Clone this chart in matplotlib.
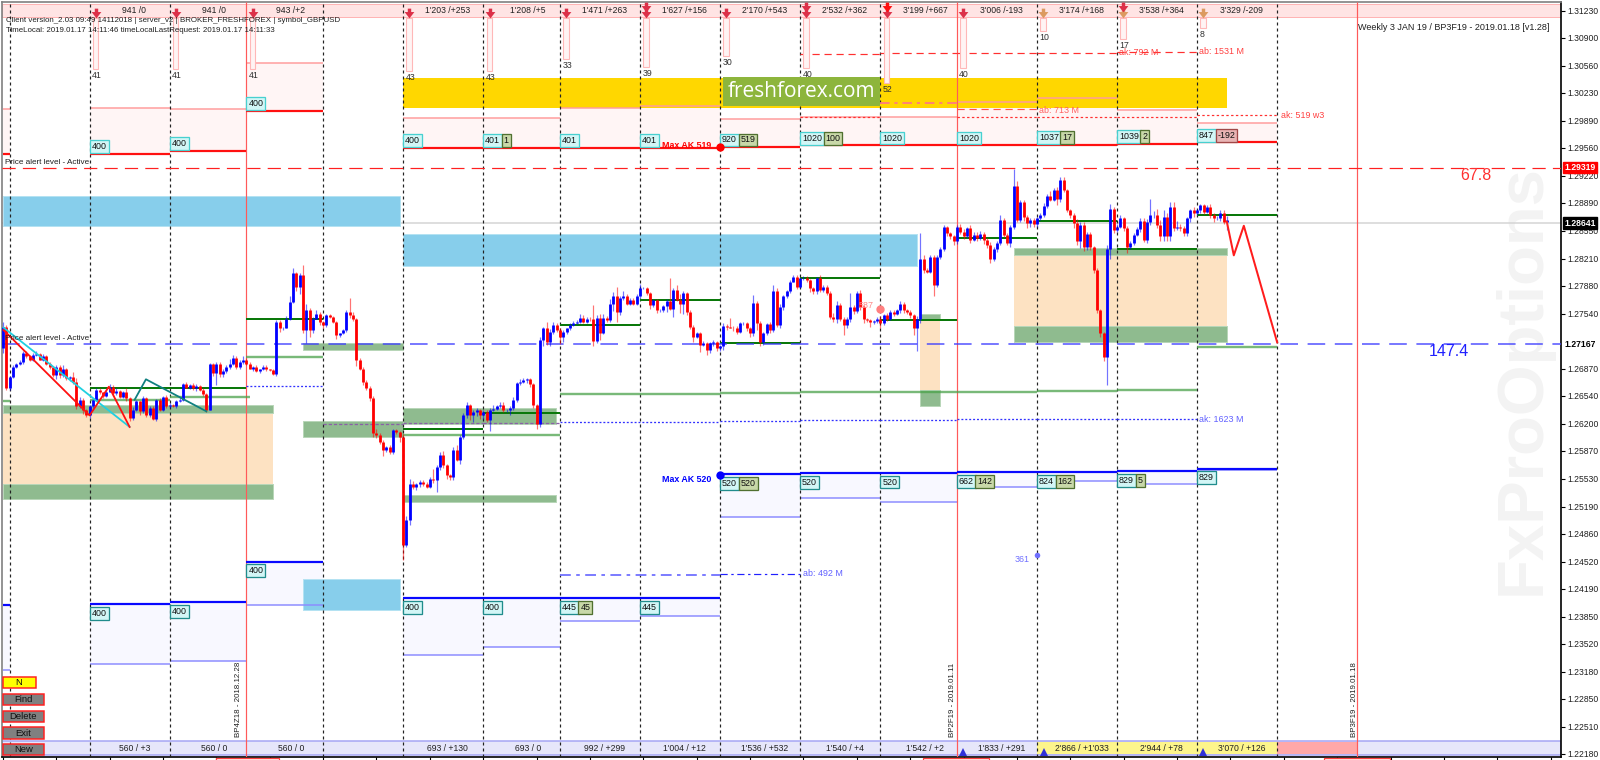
import numpy as np
import matplotlib
matplotlib.use("Agg")
import matplotlib.pyplot as plt
from matplotlib.patches import Rectangle

plt.rcParams['font.family'] = ['Liberation Sans', 'DejaVu Sans']

# candles, H1 bars, prices in 1/10000
first_open = 12712
closes = [12738, 12664,
    12677,12689,12693,12695,12706,12702,12698,12704,12705,12698,12702,12693,12689,12679,12689,12679,12686,12675,12677,12671,12641,12649,12637,12630,
    12641,12649,12661,12658,12654,12659,12665,12657,12660,12653,12658,12651,12627,12637,12647,12635,12651,12631,12639,12626,12649,12637,12653,12641,
    12643,12641,12647,12649,12668,12664,12667,12663,12666,12661,12656,12637,12693,12682,12693,12680,12684,12689,12693,12700,12689,12695,12697,
    12693,12687,12689,12684,12686,12689,12686,12685,12680,12744,12736,12737,12748,12768,12803,12787,12801,12734,12758,12734,12748,12754,12744,
    12740,12752,12750,12744,12728,12730,12734,12756,12752,12748,12698,12687,12671,12663,12651,12608,12606,12598,12588,12592,12586,12612,12610,12604,
    12472,12502,12547,12543,12546,12549,12547,12543,12553,12551,12567,12582,12569,12557,12555,12588,12576,12604,12630,12643,12630,12634,12637,12630,
    12634,12625,12637,12638,12641,12643,12636,12636,12639,12649,12669,12671,12673,12674,12668,12643,12620,12722,12736,12720,12732,12740,12734,
    12726,12732,12736,12740,12742,12744,12749,12744,12748,12747,12721,12749,12730,12749,12746,12766,12775,12756,12773,12775,12766,12771,12766,12775,
    12785,12785,12779,12764,12771,12758,12758,12763,12769,12760,12783,12771,12766,12779,12756,12738,12726,12730,12716,12718,12710,12718,12720,12712,
    12714,12739,12738,12737,12736,12732,12742,12742,12736,12730,12767,12742,12720,12730,12741,12734,12782,12740,12762,12775,12781,12793,12799,12787,
    12797,12798,12795,12785,12781,12797,12783,12786,12779,12750,12748,12764,12748,12740,12748,12762,12757,12779,12762,12748,12746,12744,12745,12748,
    12742,12752,12748,12756,12754,12758,12766,12758,12756,12752,12736,12748,12821,12807,12805,12823,12789,12823,12833,12859,12852,12848,12842,
    12860,12854,12848,12858,12844,12850,12846,12851,12844,12838,12821,12833,12840,12868,12850,12840,12860,12910,12868,12890,12872,12864,12868,12863,
    12870,12874,12885,12897,12893,12904,12894,12917,12904,12880,12874,12864,12842,12862,12835,12851,12835,12807,12758,12730,12701,12833,12882,12856,
    12860,12870,12858,12835,12840,12850,12857,12867,12844,12866,12874,12874,12862,12848,12872,12848,12884,12858,12860,12858,12852,12870,12880,12876,
    12880,12886,12878,12884,12874,12870,12871,12877,12866,12868]
upper_wick = [6,2,
    1,2,1,2,3,3,2,2,4,1,3,2,2,1,2,2,5,2,1,6,4,3,2,1,
    2,1,2,3,1,2,3,2,3,1,2,5,1,3,2,1,3,1,2,2,1,2,1,2,
    2,1,2,3,2,3,1,2,2,1,2,1,1,1,2,2,3,3,6,4,2,3,5,
    3,2,1,2,1,2,2,1,1,2,2,1,3,7,6,2,3,12,8,3,2,4,2,
    1,2,2,1,1,1,1,2,17,4,1,2,2,2,3,3,5,2,2,1,2,2,1,1,
    3,6,5,3,2,2,2,2,2,12,3,4,5,2,2,3,6,2,3,3,1,3,2,1,
    2,2,2,5,2,3,3,2,3,3,2,3,2,2,1,2,1,3,2,8,3,4,2,
    3,2,1,2,3,2,4,3,2,2,17,3,4,5,2,6,5,12,2,6,3,2,2,3,
    5,2,2,1,1,1,2,2,3,28,2,6,7,2,1,3,2,2,2,3,1,1,2,1,
    2,3,2,11,2,3,2,2,2,2,10,2,3,2,2,3,7,3,4,2,2,2,2,2,
    1,2,2,1,1,2,4,3,3,2,5,5,3,2,2,17,3,2,4,2,1,1,1,2,
    3,2,3,2,3,2,3,2,2,3,2,3,31,4,3,2,3,2,2,3,2,2,2,
    2,3,3,2,4,3,3,4,3,2,3,2,3,6,3,2,2,20,5,3,2,2,3,2,
    2,3,4,3,6,3,4,3,3,2,2,2,5,3,3,2,2,1,2,2,2,4,6,2,
    3,4,2,3,2,2,2,3,4,3,20,5,7,6,8,5,6,6,7,3,3,2,2,4,
    2,1,2,2,3,2,2,3,3,5]
lower_wick = [6,3,
    3,1,1,1,2,2,2,2,2,1,2,2,3,2,5,3,2,2,3,3,3,2,5,2,
    3,2,1,2,3,2,1,3,2,2,2,3,4,2,2,4,2,3,3,2,3,2,2,2,
    2,1,2,1,2,1,2,2,3,1,2,3,1,4,15,3,3,2,2,1,3,2,2,
    2,1,3,1,2,1,2,1,1,2,4,2,1,2,1,6,9,3,16,8,3,1,4,
    3,2,1,2,5,2,1,2,3,3,8,2,4,2,3,4,3,3,7,3,3,3,3,6,
    18,2,5,3,4,3,3,2,2,3,14,3,3,5,4,4,2,5,3,3,6,8,5,4,
    4,3,14,2,1,2,2,2,6,3,3,2,2,3,3,4,7,4,7,4,5,3,2,
    9,6,3,2,1,1,2,2,1,2,6,3,8,1,2,2,9,12,4,3,2,2,2,2,
    2,1,2,4,2,3,2,2,7,2,10,2,11,12,4,3,6,2,9,2,6,4,3,3,
    3,4,4,1,3,3,2,2,3,5,3,8,6,4,2,4,2,2,4,3,2,2,1,3,
    2,2,2,5,3,3,3,3,2,3,4,5,3,12,3,4,3,2,3,6,2,6,3,2,
    5,2,3,2,3,2,3,3,2,3,8,27,6,3,2,2,14,3,2,3,4,3,5,
    3,3,3,2,4,2,3,2,5,4,5,3,4,2,3,2,5,3,3,3,5,6,4,4,
    3,2,2,2,2,2,8,4,2,2,3,6,5,8,5,4,3,3,3,4,5,34,13,4,
    2,2,3,7,2,2,2,3,3,4,4,3,4,6,6,6,5,3,2,3,4,3,5,4,
    2,3,3,2,3,4,2,4,3,10]

# day separators (bar numbers) and the segments the levels run over
day_bars = [0, 24, 48, 94, 118, 142, 165, 189, 213, 237, 261, 308, 332, 356, 380]
week_bars = [71, 284, 404]
seg_start = [-2, 24, 48, 71, 118, 142, 165, 189, 213, 237, 261, 284, 308, 332, 356]
seg_end = [0, 48, 71, 94, 142, 165, 189, 213, 237, 261, 284, 308, 332, 356, 380]
red_top = [12948, 12949, 12952.5, 13001, 12956, 12956, 12956, 12956, 12957, 12959, 12959.4, 12959.4, 12960, 12961, 12963]
red_pale = [13003.6, 13005, 13003.6, 13059, 12992.7, 12992.7, 13005, 13007, 12991.5, 12993, 12993, 13012, 13017, 13002, 12986]
blue_top = [12398.6, 12400, 12402.6, 12451.8, 12407, 12407, 12407, 12407, 12558.5, 12559.4, 12559.8, 12560.6, 12560.6, 12562, 12565]
blue_pale = [12320, 12327, 12331, 12398.6, 12338, 12348, 12379, 12386, 12506, 12529, 12525, 12543, 12550, 12547, 12563]

# boxed numbers on the levels
top_texts = ["941 /0", "941 /0", "943 /+2", "1'203 /+253", "1'208 /+5", "1'471 /+263", "1'627 /+156", "2'170 /+543",
             "2'532 /+362", "3'199 /+667", "3'006 /-193", "3'174 /+168", "3'538 /+364", "3'329 /-209"]
bottom_texts = ["560 / +3", "560 / 0", "560 / 0", "693 / +130", "693 / 0", "992 / +299", "1'004 / +12", "1'536 / +532",
                "1'540 / +4", "1'542 / +2", "1'833 / +291", "2'866 / +1'033", "2'944 / +78", "3'070 / +126"]
red_box = ["400", "400", "400", "400", "401", "401", "401", "920", "1020", "1020", "1020", "1037", "1039", "847"]
red_box2 = [None, None, None, None, "1", None, None, "519", "100", None, None, "17", "2", "-192"]
blue_box = ["400", "400", "400", "400", "400", "445", "445", "520", "520", "520", "662", "824", "829", "829"]
blue_box2 = [None, None, None, None, None, "45", None, "520", None, None, "142", "162", "5", None]
column_low = [13052, 13052, 13052, 13049, 13049, 13064, 13055, 13068, 13053, 13034.5, 13053, 13098, 13088.5, 13101.5]
column_num = ["41", "41", "41", "43", "43", "33", "39", "30", "40", "52", "40", "10", "17", "8"]

# zones: bar from, bar to, low, high
green_from = [-2, -2, 88, 88, 118, 118, 273, 273, 301, 301]
green_to = [78.9, 78.9, 118, 118, 163.8, 163.8, 279, 279, 365, 365]
green_low = [12633.4, 12528, 12710, 12604, 12620, 12524, 12746, 12641, 12825, 12720]
green_high = [12643, 12546.5, 12718, 12623, 12638.5, 12533, 12754, 12661, 12834, 12739]
tan_from = [-2, 273, 301]
tan_to = [78.9, 279, 365]
tan_low = [12546.5, 12661, 12739]
tan_high = [12633.4, 12746, 12825]
sky_from = [-2, 118, 88]
sky_to = [117, 272, 117]
sky_low = [12861, 12812, 12392.5]
sky_high = [12897.7, 12850.5, 12431]

# dark green levels
dark_from = [24, 71, 118, 142, 165, 189, 213, 237, 261, 284, 308, 332, 356]
dark_to = [71, 94, 142, 165, 189, 213, 237, 261, 284, 308, 332, 356, 380]
dark_level = [12663, 12747, 12613, 12633, 12740, 12771, 12718.6, 12798, 12746, 12846.5, 12867, 12833, 12874]
# pale green levels
pale_from = [-2, 24, 48, 71, 118, 165, 213, 237, 261, 284, 308, 332, 356]
pale_to = [0, 48, 72, 94, 165, 213, 237, 261, 284, 308, 332, 356, 380]
pale_level = [12647, 12649, 12652.5, 12701, 12606, 12656, 12657, 12658, 12659, 12659, 12660, 12661, 12713]

# dotted and dashed levels
blue_dot_from = [71, 165, 213, 237, 261, 284, 308, 332]
blue_dot_to = [94, 213, 237, 261, 284, 308, 332, 356]
blue_dot_level = [12666, 12622, 12623.6, 12624, 12625, 12625.6, 12625.5, 12626]
purple_from = [94, 118, 142]
purple_to = [118, 142, 165]
purple_level = [12620, 12621, 12621]
red_dash_from = [237, 261, 284, 308, 332]
red_dash_to = [261, 284, 308, 332, 356]
red_dash_level = [13070, 13071, 13071, 13072, 13073]
red_dot_from = [237, 284, 308, 332, 356]
red_dot_to = [261, 308, 332, 356, 380]
red_dot_level = [12993, 12993, 12993, 12994, 12996]

# hand drawn zigzags
zig_red_x = [-1.8, 24, 29.8, 36]
zig_red_y = [12734, 12630, 12665, 12616]
zig_cyan_x = [-1.8, 36]
zig_cyan_y = [12737, 12616]
zig_teal_x = [37.5, 40.9, 59]
zig_teal_y = [12649, 12674, 12635]
future_x = [364.9, 367, 370, 380]
future_y = [12866, 12825, 12861, 12719]

tick_prices = [1.31230, 1.30900, 1.30560, 1.30230, 1.29890, 1.29560, 1.29220, 1.28890, 1.28550, 1.28210, 1.27880, 1.27540,
               1.26870, 1.26540, 1.26200, 1.25870, 1.25530, 1.25190, 1.24860, 1.24520, 1.24190, 1.23850, 1.23520, 1.23180,
               1.22850, 1.22510, 1.22180]


def pr(values):
    return np.array(values, dtype=float) / 1e4


bars = np.arange(-2, 366)
close_p = pr(closes)
open_p = np.r_[first_open / 1e4, close_p[:-1]]
high_p = np.maximum(open_p, close_p) + pr(upper_wick)
low_p = np.minimum(open_p, close_p) - pr(lower_wick)

fig = plt.figure(figsize=(16, 7.6), dpi=100)
ax = fig.add_axes([2 / 1600, 1 - 757 / 760, 1559 / 1600, 755 / 760])
ax.set_xlim((2 - 9.5) / 3.336, (1561 - 9.5) / 3.336)
ax.set_ylim(1.22139, 1.31336)
px = 0.72

# watermark
ax.text(1523 / 1600, 380 / 760, "FxProOptions", transform=fig.transFigure, rotation=90, ha='center', va='center',
        fontweight='bold', fontsize=47, color='#f3f3f3', zorder=0)

# fills under the red and blue levels
for s, e, a, b in zip(seg_start, seg_end, red_top, red_pale):
    ax.fill_between([s, e], a / 1e4, b / 1e4, color='#fff5f5', lw=0, zorder=1)
for s, e, a, b in zip(seg_start, seg_end, blue_top, blue_pale):
    ax.fill_between([s, e], a / 1e4, b / 1e4, color='#f8f8ff', lw=0, zorder=1)
ax.axhline(1.28641, color='#d4d4d4', lw=1.5 * px, zorder=1)

ax.add_patch(Rectangle((118, 1.3004), 247, 0.00374, fc='#ffd700', ec='none', zorder=2))
for s, e, a, b in zip(sky_from, sky_to, sky_low, sky_high):
    ax.add_patch(Rectangle((s, a / 1e4), e - s, (b - a) / 1e4, fc='#87ceeb', ec='#b4e2f2', lw=px, zorder=2))
for s, e, a, b in zip(tan_from, tan_to, tan_low, tan_high):
    ax.add_patch(Rectangle((s, a / 1e4), e - s, (b - a) / 1e4, fc='#fde2c2', ec='none', zorder=2))
for s, e, a, b in zip(green_from, green_to, green_low, green_high):
    ax.add_patch(Rectangle((s, a / 1e4), e - s, (b - a) / 1e4, fc='#8fbb8f', ec='#b8d6b8', lw=px, zorder=2))

# top and bottom strips
ax.axhspan(1.31155, 1.3131, fc='#ffe4e4', ec='#ffb4b4', lw=px, zorder=2)
ax.axhspan(1.22164, 1.22335, fc='#e6e6fa', ec='#a4a4f4', lw=1.5 * px, zorder=2)
ax.add_patch(Rectangle((308, 1.22172), 72, 0.00155, fc='#fdf58c', ec='none', zorder=2))
ax.add_patch(Rectangle((380, 1.22172), 24, 0.00155, fc='#ffa8a8', ec='none', zorder=2))

# pale levels
ax.hlines(pr(red_pale), seg_start, seg_end, color='#ff9c9c', lw=1.5 * px, zorder=3)
ax.hlines(pr(blue_pale), seg_start, seg_end, color='#8c8cff', lw=1.5 * px, zorder=3)

# separators
ax.vlines(day_bars, 0, 1, transform=ax.get_xaxis_transform(), color='#222222', lw=1.2 * px, linestyles=(0, (2.5, 2.5)), zorder=3)
ax.vlines(week_bars, 0, 1, transform=ax.get_xaxis_transform(), color='#ff5a5a', lw=1.2 * px, zorder=3)

# main levels
ax.hlines(pr(red_top), seg_start, seg_end, color='#ff1010', lw=2.2 * px, zorder=4)
ax.hlines(pr(blue_top), seg_start, seg_end, color='#0808ff', lw=2.2 * px, zorder=4)
ax.hlines(pr(pale_level), pale_from, pale_to, color='#4ca24c', lw=2.4 * px, alpha=0.75, zorder=4)
ax.hlines(pr(dark_level), dark_from, dark_to, color='#0a780a', lw=2 * px, zorder=4)
ax.hlines(pr(blue_dot_level), blue_dot_from, blue_dot_to, color='#3030ff', lw=1.3 * px, linestyles=(0, (1.5, 1.5)), zorder=4)
ax.hlines(pr(purple_level), purple_from, purple_to, color='#8a60a8', lw=1.3 * px, linestyles=(0, (2.5, 1.5)), zorder=4)
ax.hlines(pr(red_dash_level), red_dash_from, red_dash_to, color='#ff3030', lw=1.2 * px, linestyles=(0, (6, 4)), zorder=4)
ax.hlines(pr(red_dot_level), red_dot_from, red_dot_to, color='#ff3030', lw=1.2 * px, linestyles=(0, (2, 2)), zorder=4)
ax.hlines([1.3011], 261, 284, color='#ff7090', lw=1.6 * px, linestyles=(0, (6, 3, 2, 3)), zorder=4)
ax.hlines([1.3003], 284, 308, color='#ff5050', lw=1.2 * px, linestyles=(0, (6, 4)), zorder=4)
ax.hlines([1.2435], 165, 213, color='#7070ff', lw=1.8 * px, linestyles=(0, (6, 3, 2, 3)), zorder=4)
ax.hlines([1.2437], 213, 237, color='#2020ff', lw=1.2 * px, linestyles=(0, (6, 3, 2, 3)), zorder=4)
ax.axhline(1.29319, color='#ff2020', lw=1.2 * px, dashes=(11, 6), zorder=4)
ax.axhline(1.27167, color='#3c3cff', lw=1.6 * px, dashes=(11, 6), alpha=0.85, zorder=4)

# candles
up = close_p >= open_p
for mask, col in ((up, '#0000ff'), (~up, '#ff0000')):
    ax.vlines(bars[mask], low_p[mask], high_p[mask], color=col, lw=1.2 * px, alpha=0.55, zorder=5)
    ax.vlines(bars[mask], np.minimum(open_p, close_p)[mask], np.maximum(open_p, close_p)[mask], color=col, lw=2.8 * px, zorder=5)

# zigzags and projection
ax.plot(zig_cyan_x, pr(zig_cyan_y), color='#20d0e0', lw=1.8 * px, zorder=6)
ax.plot(zig_red_x, pr(zig_red_y), color='#ff1010', lw=1.8 * px, zorder=6)
ax.plot(zig_teal_x, pr(zig_teal_y), color='#108080', lw=1.8 * px, zorder=6)
ax.plot(future_x, pr(future_y), color='#ff1c1c', lw=2 * px, zorder=6)

# columns and arrows on top
arrow = [(-0.35, 1), (0.35, 1), (0.35, 0.3), (1, 0.3), (0, -1), (-1, 0.3), (-0.35, 0.3)]
for k, s in enumerate(seg_start[1:]):
    is_orange = s in (308, 356)
    ax.add_patch(Rectangle((s + 1, column_low[k] / 1e4), 1.6, 1.3114 - column_low[k] / 1e4, fc='#fff4f4', ec='#ffb8b8', lw=1.1 * px, zorder=6))
    ax.annotate(column_num[k], (s + 0.7, column_low[k] / 1e4), xytext=(0, -2), textcoords='offset pixels', ha='left', va='top', fontsize=6.3, color='#303030', zorder=7)
    ax.plot(s + 1.9, 1.3120, marker=arrow, ms=7, color='#dc9a60' if is_orange or s == 332 else '#dc3048', mew=0, zorder=7)
    ax.text(s + 13.4, 1.3123, top_texts[k], ha='center', va='center', fontsize=6.2, color='#202020', zorder=7)
    ax.text(s + 13.4, 1.22245, bottom_texts[k], ha='center', va='center', fontsize=6.2, color='#202020', zorder=7)
for s, col in ((189, '#dc3048'), (237, '#dc3048'), (261, '#ff1010'), (332, '#dc3048')):
    ax.plot(s + 1.9, 1.31275, marker=arrow, ms=7, color=col, mew=0, zorder=7)
for s in (285.8, 310.1, 357.8):
    ax.plot(s, 1.22195, marker='^', ms=6, color='#3030d8', mew=0, zorder=7)


def box(bar, level, text, dy, face, edge, dx=2):
    ax.annotate(text, (bar, level), xytext=(dx, dy), textcoords='offset pixels', ha='left', va='center', fontsize=6.4, color='#101010',
                bbox=dict(boxstyle='square,pad=0.22', fc=face, ec=edge, lw=1.3 * px), zorder=8)


for k, s in enumerate(seg_start[1:]):
    r_level = red_top[k + 1] / 1e4
    b_level = blue_top[k + 1] / 1e4
    box(s, r_level, red_box[k], 7, '#d2f6f6', '#48d0d0')
    box(s, b_level, blue_box[k], -9, '#d2f6f6', '#208c8c')
    if red_box2[k]:
        neg = red_box2[k].startswith('-')
        box(s + 1.2 + 1.45 * len(red_box[k]), r_level, red_box2[k], 7, '#e8b4b4' if neg else '#c8d8a8', '#a04848' if neg else '#507030')
    if blue_box2[k]:
        box(s + 1.2 + 1.45 * len(blue_box[k]), b_level, blue_box2[k], -9, '#c8d8a8', '#507030')

# freshforex badge
ax.add_patch(Rectangle((213.9, 1.3007), 47.1, 0.0035, fc='#8db53c', ec='none', zorder=8))
ax.text(237.5, 1.30245, "freshforex.com", ha='center', va='center', color='white', fontsize=15, family='Open Sans', zorder=9)

# notes on the chart
small = dict(fontsize=6.4, zorder=9, va='center')
ax.text(332.6, 1.3072, "ak: 792 M", color='#ff4040', **small)
ax.text(356.7, 1.3073, "ab: 1531 M", color='#ff4040', **small)
ax.text(308.7, 1.3002, "ab: 713 M", color='#ff6060', **small)
ax.text(381, 1.29958, "ak: 519 w3", color='#ff4040', **small)
ax.text(237.8, 1.2437, "ab: 492 M", color='#6060ff', **small)
ax.text(356.7, 1.26255, "ak: 1623 M", color='#6060ff', **small)
ax.text(303.5, 1.2455, "361", color='#7070ff', ha='center', **small)
ax.plot(308, 1.2460, 'o', ms=4, color='#7070ff', mew=0, zorder=9)
ax.text(210.5, 1.29585, "Max AK 519", color='#ff0000', fontweight='bold', ha='right', **small)
ax.text(210.5, 1.25516, "Max AK 520", color='#0000ff', fontweight='bold', ha='right', **small)
ax.plot(213, 1.2957, 'o', ms=6, color='#ff0000', mew=0, zorder=9)
ax.plot(213, 1.2558, 'o', ms=6, color='#0000ff', mew=0, zorder=9)
ax.plot(261, 1.2760, 'o', ms=6, color='#ff8080', mew=0, zorder=9)
ax.text(256.8, 1.2764, "587", color='#ff8888', ha='center', **small)
ax.text(439.6, 1.29225, "67.8", color='#ff3030', fontsize=11.5, ha='center', va='center', zorder=9)
ax.text(431.5, 1.2708, "147.4", color='#2020ff', fontsize=11.5, ha='center', va='center', zorder=9)


def top_note(x, y, s, **kw):
    fig.text(x / 1600, 1 - y / 760, s, ha=kw.pop('ha', 'left'), va='center', fontsize=kw.pop('fontsize', 5.7), color=kw.pop('color', '#202020'), zorder=10, **kw)


top_note(6, 20, "Client version_2.03 09:49 14112018 | server_v2 | BROKER_FRESHFOREX | symbol_GBPUSD")
top_note(6, 30, "TimeLocal: 2019.01.17 14:11:46 timeLocalLastRequest: 2019.01.17 14:11:33")
top_note(1358, 28, "Weekly 3 JAN 19 / BP3F19 - 2019.01.18 [v1.28]", fontsize=6.5)
top_note(5, 163, "Price alert level - Active", fontsize=5.9)
top_note(5, 339, "Price alert level - Active", fontsize=5.9)
for x, s in ((239, "BP4Z18 - 2018.12.28"), (952, "BP2F19 - 2019.01.11"), (1354, "BP3F19 - 2019.01.18")):
    fig.text(x / 1600, 1 - 737 / 760, s, rotation=90, ha='center', va='bottom', fontsize=5.7, color='#202020', zorder=10)

# buttons
for label, x1, y0, y1, face in (("N", 35.5, 677, 688, '#ffff00'), ("Find", 44, 694, 705, '#808080'), ("Delete", 44, 711, 722, '#808080'),
                                ("Exit", 44, 727, 739, '#808080'), ("New", 44, 744, 755, '#808080')):
    fig.add_artist(Rectangle((2.7 / 1600, 1 - y1 / 760), (x1 - 2.7) / 1600, (y1 - y0) / 760, transform=fig.transFigure, fc=face, ec='#ff2020', lw=1.5 * px, zorder=10))
    fig.text((2.7 + x1) / 2 / 1600, 1 - (y0 + y1) / 2 / 760, label, ha='center', va='center', fontsize=6.8, color='#101010', zorder=11)
for x0, x1 in ((216, 279), (923, 989), (1324, 1390)):
    fig.add_artist(Rectangle((x0 / 1600, 0), (x1 - x0) / 1600, 1.8 / 760, transform=fig.transFigure, fc='white', ec='#ff4040', lw=1.2 * px, zorder=10))

# price axis
ax.yaxis.tick_right()
ax.set_yticks(tick_prices)
ax.set_yticklabels(["%.5f" % v for v in tick_prices], fontsize=6.2, color='#202020')
ax.tick_params(axis='y', length=3, width=0.8, pad=1.5, color='black')
ax.set_xticks(np.arange(-2, 466, 16))
ax.set_xticklabels([])
ax.tick_params(axis='x', length=3, width=0.8, color='black')
for side, col in (('top', '#808080'), ('left', '#808080'), ('right', 'black'), ('bottom', 'black')):
    ax.spines[side].set_color(col)
    ax.spines[side].set_linewidth(1.2)

tag = ax.get_yaxis_transform()
for val, face, col in ((1.29319, '#ff0000', 'white'), (1.28641, '#000000', 'white'), (1.27167, 'white', 'black')):
    ax.text(1.0022, val, "%.5f" % val, transform=tag, ha='left', va='center', fontsize=6.2, color=col, fontweight='bold', clip_on=False,
            bbox=dict(boxstyle='square,pad=0.15', fc=face, ec=face), zorder=12)

fig.savefig("out.png", dpi=100)
